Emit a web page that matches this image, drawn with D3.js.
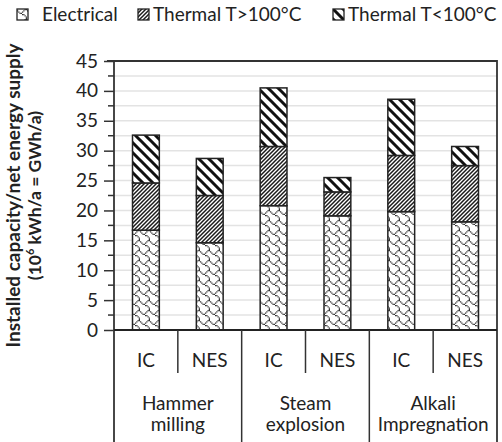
<!DOCTYPE html>
<html>
<head>
<meta charset="utf-8">
<script src="https://cdn.jsdelivr.net/npm/d3@7"></script>
<style>
  body { margin: 0; background: #fff; }
  svg { display: block; font-family: Lato, "Open Sans", sans-serif; }
</style>
</head>
<body>
<svg width="502" height="442"></svg>
<script>
// data
const bars = ['IC', 'NES', 'IC', 'NES', 'IC', 'NES']
const groups = [['Hammer', 'milling'], ['Steam', 'explosion'], ['Alkali', 'Impregnation']]
const electrical = [16.7, 14.6, 20.8, 19.1, 19.8, 18.1]
const thermalHigh = [7.9, 7.9, 9.9, 4.0, 9.4, 9.4]
const thermalLow = [8.0, 6.2, 9.8, 2.4, 9.4, 3.2]
const seriesNames = ['Electrical', 'Thermal T>100°C', 'Thermal T<100°C']
const yTicks = [0, 5, 10, 15, 20, 25, 30, 35, 40, 45]

const svg = d3.select('svg')
const pLeft = 114, pRight = 497, pTop = 61, pBottom = 330
const fs = 19

const x = d3.scaleBand().domain(d3.range(bars.length)).range([pLeft, pRight])
const y = d3.scaleLinear().domain([0, 45]).range([pBottom, pTop])
const barW = x.step() * 0.42

// patterns
const defs = svg.append('defs')
// shingle bitmap (8x8), drawn at 1.25px per cell
const shingle = [0x03, 0x84, 0x48, 0x30, 0x0c, 0x02, 0x01, 0x01]
let p = defs.append('pattern').attr('id', 'pElec')
  .attr('patternUnits', 'userSpaceOnUse').attr('width', 10).attr('height', 10)
p.append('rect').attr('width', 10).attr('height', 10).attr('fill', '#fff')
shingle.forEach((row, r) => {
  for (let c = 0; c < 8; c++) {
    if (row & (0x80 >> c)) {
      p.append('rect').attr('x', c * 1.25).attr('y', r * 1.25)
        .attr('width', 1.25).attr('height', 1.25).attr('fill', '#333')
    }
  }
})

p = defs.append('pattern').attr('id', 'pHigh')
  .attr('patternUnits', 'userSpaceOnUse').attr('width', 4).attr('height', 4)
p.append('rect').attr('width', 4).attr('height', 4).attr('fill', '#fff')
p.append('path').attr('d', 'M-1,1 L1,-1 M0,4 L4,0 M3,5 L5,3')
  .attr('stroke', '#1a1a1a').attr('stroke-width', 1.5)

p = defs.append('pattern').attr('id', 'pLow')
  .attr('patternUnits', 'userSpaceOnUse').attr('width', 10).attr('height', 10)
p.append('rect').attr('width', 10).attr('height', 10).attr('fill', '#fff')
p.append('path').attr('d', 'M-2,-2 L12,12 M-2,8 L2,12 M8,-2 L12,2')
  .attr('stroke', '#111').attr('stroke-width', 3)

const fills = ['url(#pElec)', 'url(#pHigh)', 'url(#pLow)']

// gridlines every 2.5
svg.append('g').selectAll('line')
  .data(d3.range(2.5, 45, 2.5))
  .join('line')
  .attr('x1', pLeft).attr('x2', pRight)
  .attr('y1', d => y(d)).attr('y2', d => y(d))
  .attr('stroke', '#e3e3e3').attr('stroke-width', 1.5)

// stacked bars
const rows = bars.map((b, i) => ({ i: i, vals: [electrical[i], thermalHigh[i], thermalLow[i]] }))
const stackData = d3.stack().keys([0, 1, 2]).value((d, k) => d.vals[k])(rows)
stackData.forEach((layer, k) => {
  svg.append('g').selectAll('rect')
    .data(layer)
    .join('rect')
    .attr('x', d => x(d.data.i) + (x.bandwidth() - barW) / 2)
    .attr('width', barW)
    .attr('y', d => y(d[1]))
    .attr('height', d => y(d[0]) - y(d[1]))
    .attr('fill', fills[k])
    .attr('stroke', '#222').attr('stroke-width', 1.5)
})

// plot frame
svg.append('path')
  .attr('d', `M${pLeft - 7},${pTop} H${pRight} V442`)
  .attr('fill', 'none').attr('stroke', '#333').attr('stroke-width', 1.8)

// y axis
const yAxis = d3.axisLeft(y).tickValues(yTicks).tickSize(10).tickPadding(6)
const ya = svg.append('g').attr('transform', `translate(${pLeft},0)`).call(yAxis)
ya.select('.domain').remove()
ya.selectAll('.tick line').attr('stroke', '#333').attr('stroke-width', 1.5)
ya.selectAll('.tick text').attr('font-size', fs).attr('fill', '#222')
  .style('font-family', 'Lato, sans-serif')
svg.append('g').selectAll('line')
  .data(d3.range(2.5, 45, 5))
  .join('line')
  .attr('x1', pLeft - 6).attr('x2', pLeft)
  .attr('y1', d => y(d)).attr('y2', d => y(d))
  .attr('stroke', '#333').attr('stroke-width', 1.5)
svg.append('line').attr('x1', pLeft).attr('x2', pLeft).attr('y1', pTop).attr('y2', 442)
  .attr('stroke', '#333').attr('stroke-width', 1.8)

// x axis line and dividers
svg.append('line').attr('x1', pLeft).attr('x2', pRight).attr('y1', pBottom).attr('y2', pBottom)
  .attr('stroke', '#222').attr('stroke-width', 2.2)
svg.append('g').selectAll('line')
  .data(d3.range(1, bars.length))
  .join('line')
  .attr('x1', i => x(i)).attr('x2', i => x(i))
  .attr('y1', pBottom)
  .attr('y2', i => i % 2 === 0 ? 442 : 373)
  .attr('stroke', '#333').attr('stroke-width', 1.5)

svg.append('g').selectAll('text')
  .data(bars)
  .join('text')
  .attr('x', (d, i) => x(i) + x.bandwidth() / 2)
  .attr('y', 367)
  .attr('text-anchor', 'middle')
  .attr('font-size', fs).attr('fill', '#222')
  .text(d => d)

groups.forEach((g, gi) => {
  const cx = (x(gi * 2) + x(gi * 2 + 1) + x.bandwidth()) / 2
  svg.append('text')
    .attr('x', cx).attr('y', 410)
    .attr('text-anchor', 'middle')
    .attr('font-size', fs).attr('fill', '#222')
    .selectAll('tspan')
    .data(g)
    .join('tspan')
    .attr('x', cx)
    .attr('dy', (d, j) => j === 0 ? 0 : 21)
    .text(d => d)
})

// y title
const yt = svg.append('text')
  .attr('transform', `translate(0,${(pTop + pBottom) / 2}) rotate(-90)`)
  .attr('text-anchor', 'middle')
  .attr('font-weight', 'bold').attr('fill', '#222')
yt.append('tspan').attr('x', 0).attr('y', 20).attr('font-size', 19)
  .text('Installed capacity/net energy supply')
const l2 = yt.append('tspan').attr('x', 0).attr('y', 41).attr('font-size', 17.5)
l2.append('tspan').text('(10')
l2.append('tspan').attr('font-size', 11).attr('dy', -7).text('6')
l2.append('tspan').attr('dy', 7).text(' kWh/a = GWh/a)')

// legend
const legX = [17, 138, 333]
const leg = svg.append('g').selectAll('g')
  .data(seriesNames)
  .join('g')
  .attr('transform', (d, i) => `translate(${legX[i]},9)`)
leg.append('rect').attr('width', 11).attr('height', 11)
  .attr('fill', (d, i) => fills[i]).attr('stroke', '#222').attr('stroke-width', 1.3)
leg.append('text')
  .attr('x', (d, i) => i === 0 ? 25 : 15).attr('y', 12)
  .attr('font-size', fs).attr('fill', '#222')
  .text(d => d)
</script>
</body>
</html>
